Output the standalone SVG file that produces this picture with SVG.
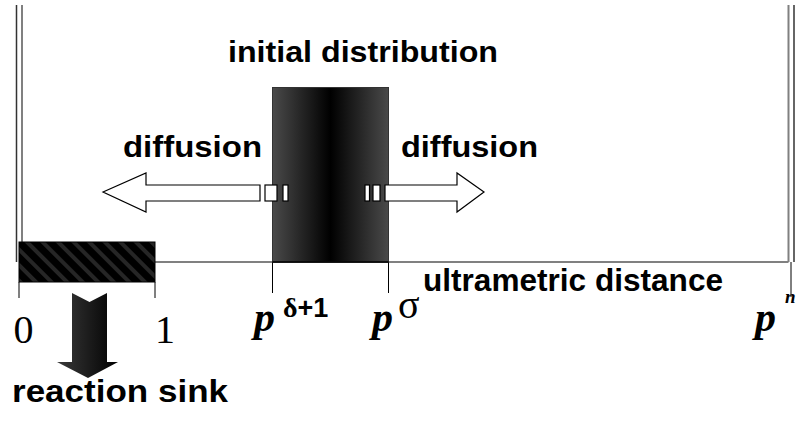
<svg xmlns="http://www.w3.org/2000/svg" width="798" height="421" viewBox="0 0 798 421">
<defs>
<linearGradient id="distGrad" x1="0" y1="0" x2="1" y2="0">
<stop offset="0" stop-color="#4a4a4a"/>
<stop offset="0.5" stop-color="#000"/>
<stop offset="1" stop-color="#4a4a4a"/>
</linearGradient>
<linearGradient id="sinkGrad" x1="0" y1="0" x2="1" y2="0">
<stop offset="0" stop-color="#3a3a3a"/>
<stop offset="1" stop-color="#000"/>
</linearGradient>
<pattern id="hatch" patternUnits="userSpaceOnUse" width="11" height="11" patternTransform="rotate(-45)">
<rect width="11" height="11" fill="#000"/>
<rect x="0" y="0" width="4" height="11" fill="#262626"/>
</pattern>
</defs>
<style>
.lbl{font-family:"Liberation Sans",Arial,sans-serif;font-weight:bold;fill:#000}
.math{font-family:"Liberation Serif","Times New Roman",serif;fill:#000}
.frameDark{stroke:#333;stroke-width:1.5;fill:none}
.frameGray{stroke:#808080;stroke-width:2;fill:none}
.tick{stroke:#000;stroke-width:1;fill:none}
.arrowW{fill:#fff;stroke:#000;stroke-width:1.2}
</style>
<rect width="798" height="421" fill="#fff"/>

<g id="frame">
<line class="frameDark" x1="16.5" y1="5" x2="16.5" y2="262"/>
<line class="frameGray" x1="22" y1="5" x2="22" y2="242"/>
<line class="frameGray" x1="788.5" y1="5" x2="788.5" y2="262"/>
<line class="frameDark" x1="794" y1="5" x2="794" y2="262"/>
<line class="frameGray" x1="155" y1="262" x2="788.5" y2="262"/>
</g>

<g id="ticks">
<line class="tick" x1="19" y1="282" x2="19" y2="298"/>
<line class="tick" x1="155" y1="282" x2="155" y2="298"/>
<line class="tick" x1="272.5" y1="262" x2="272.5" y2="293"/>
<line class="tick" x1="388.5" y1="262" x2="388.5" y2="293"/>
<line class="tick" x1="791" y1="262" x2="791" y2="297"/>
</g>

<g id="reaction-sink">
<rect x="19" y="242" width="136" height="40" fill="url(#hatch)" stroke="#000" stroke-width="1"/>
<polygon points="72,293 89.5,302 107,293 107,362 118,362 88,378 57,362 72,362" fill="url(#sinkGrad)"/>
<text class="lbl" x="12" y="402" font-size="32" textLength="216" lengthAdjust="spacingAndGlyphs">reaction sink</text>
</g>

<g id="initial-distribution">
<rect x="272.5" y="87.5" width="116" height="174.5" fill="url(#distGrad)" stroke="#333" stroke-width="1"/>
<line x1="272.5" y1="262" x2="388.5" y2="262" stroke="#000" stroke-width="1.5"/>
<text class="lbl" x="228" y="62" font-size="30" textLength="270" lengthAdjust="spacingAndGlyphs">initial distribution</text>
</g>

<g id="connectors">
<g id="diffusion-left">
<polygon class="arrowW" points="103,192 146,173 146,185 260,185 260,201 146,201 146,212"/>
<rect class="arrowW" x="265" y="185" width="12" height="16"/>
<rect class="arrowW" x="283" y="185" width="5" height="16"/>
</g>
<g id="diffusion-right">
<rect class="arrowW" x="365" y="185" width="4.5" height="16"/>
<rect class="arrowW" x="373" y="185" width="7" height="16"/>
<polygon class="arrowW" points="385,185 457,185 457,173 484,192 457,212 457,201 385,201"/>
</g>
</g>

<g id="labels">
<text class="lbl" x="123" y="157" font-size="30" textLength="139" lengthAdjust="spacingAndGlyphs">diffusion</text>
<text class="lbl" x="401" y="157" font-size="30" textLength="137" lengthAdjust="spacingAndGlyphs">diffusion</text>
<text class="lbl" x="423" y="291" font-size="32" textLength="300" lengthAdjust="spacingAndGlyphs">ultrametric distance</text>
</g>

<g id="axis-values">
<text class="math" x="23.5" y="343" font-size="40" text-anchor="middle">0</text>
<text class="math" x="165" y="343" font-size="40" text-anchor="middle">1</text>
<text class="math" x="254" y="331" font-size="42" font-weight="bold" font-style="italic">p</text>
<text x="283" y="317"><tspan class="math" font-size="28" font-weight="bold">δ</tspan><tspan class="lbl" font-size="27">+1</tspan></text>
<text class="math" x="372" y="331" font-size="42" font-weight="bold" font-style="italic">p</text>
<text class="math" x="398" y="318" font-size="40">σ</text>
<text class="math" x="755" y="331" font-size="42" font-weight="bold" font-style="italic">p</text>
<text class="math" x="785" y="303" font-size="19" font-weight="bold" font-style="italic">n</text>
</g>
</svg>
